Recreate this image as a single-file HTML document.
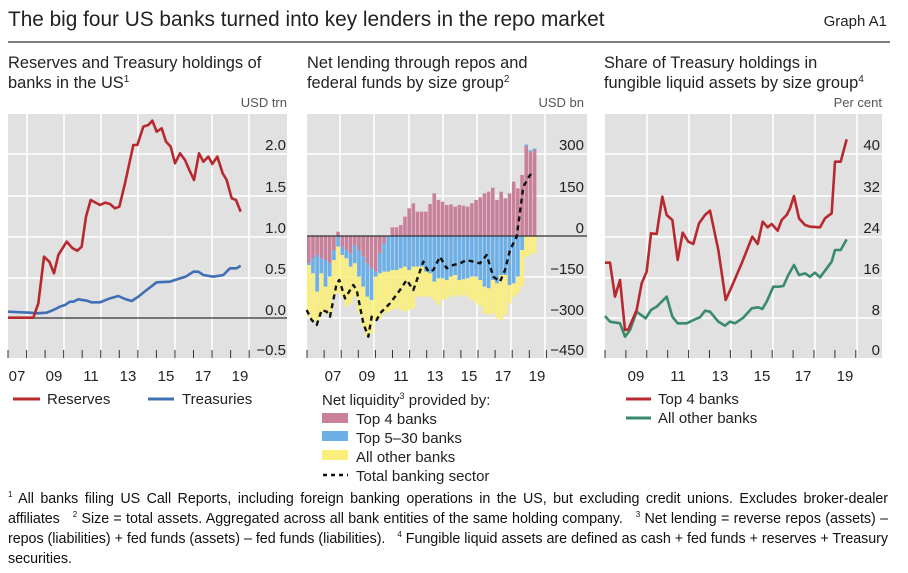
<!DOCTYPE html>
<html><head><meta charset="utf-8">
<style>
html,body{margin:0;padding:0;background:#fff;}
svg text{font-family:"Liberation Sans",sans-serif;fill:#222;}
.fn{position:absolute;left:8px;top:489px;width:880px;font-family:"Liberation Sans",sans-serif;font-size:14.3px;letter-spacing:-0.04px;line-height:20px;color:#111;text-align:justify;}
sup{font-size:8px;line-height:0;vertical-align:6px;}
</style></head><body>
<div style="position:relative;width:908px;height:573px;overflow:hidden">
<svg id="s" width="908" height="573" xmlns="http://www.w3.org/2000/svg">
<text x="8" y="26" font-size="20.8">The big four US banks turned into key lenders in the repo market</text>
<text x="887" y="26" font-size="15" text-anchor="end">Graph A1</text>
<line x1="8" y1="42" x2="890" y2="42" stroke="#333" stroke-width="1.3"/>
<text x="8" y="68" font-size="16.4">Reserves and Treasury holdings of</text>
<text x="8" y="88" font-size="16.4">banks in the US<tspan font-size="10" dy="-6">1</tspan></text>
<text x="307" y="68" font-size="16.4">Net lending through repos and</text>
<text x="307" y="88" font-size="16.4">federal funds by size group<tspan font-size="10" dy="-6">2</tspan></text>
<text x="604" y="68" font-size="16.4">Share of Treasury holdings in</text>
<text x="604" y="88" font-size="16.4">fungible liquid assets by size group<tspan font-size="10" dy="-6">4</tspan></text>
<text x="287" y="107" font-size="13" text-anchor="end" style="fill:#555">USD trn</text>
<text x="584" y="107" font-size="13" text-anchor="end" style="fill:#555">USD bn</text>
<text x="882" y="107" font-size="13" text-anchor="end" style="fill:#555">Per cent</text>
<g id="g"></g>
<line x1="13" y1="399" x2="40" y2="399" stroke="#b8292f" stroke-width="3"/>
<text x="47" y="404" font-size="15">Reserves</text>
<line x1="148" y1="399" x2="174" y2="399" stroke="#3f6fb5" stroke-width="3"/>
<text x="182" y="404" font-size="15">Treasuries</text>
<text x="322" y="405" font-size="15">Net liquidity<tspan font-size="9" dy="-6">3</tspan><tspan dy="6"> provided by:</tspan></text>
<rect x="322" y="413" width="26" height="10" fill="#c9809a"/>
<text x="356" y="424" font-size="15">Top 4 banks</text>
<rect x="322" y="431" width="26" height="10" fill="#6db0e8"/>
<text x="356" y="443" font-size="15">Top 5–30 banks</text>
<rect x="322" y="450" width="26" height="10" fill="#fbef7c"/>
<text x="356" y="462" font-size="15">All other banks</text>
<line x1="323" y1="475" x2="348" y2="475" stroke="#111" stroke-width="2.5" stroke-dasharray="4,4"/>
<text x="356" y="481" font-size="15">Total banking sector</text>
<line x1="626" y1="399" x2="651" y2="399" stroke="#b8292f" stroke-width="3"/>
<text x="658" y="404" font-size="15">Top 4 banks</text>
<line x1="626" y1="418" x2="651" y2="418" stroke="#3a8a6c" stroke-width="3"/>
<text x="658" y="423" font-size="15">All other banks</text>
</svg>
<div class="fn"><sup>1</sup> All banks filing US Call Reports, including foreign banking operations in the US, but excluding credit unions. Excludes broker-dealer affiliates &nbsp; <sup>2</sup> Size = total assets. Aggregated across all bank entities of the same holding company. &nbsp; <sup>3</sup> Net lending = reverse repos (assets) – repos (liabilities) + fed funds (assets) – fed funds (liabilities). &nbsp; <sup>4</sup> Fungible liquid assets are defined as cash + fed funds + reserves + Treasury securities.</div>
</div>
<script>
var NS="http://www.w3.org/2000/svg",G=document.getElementById("g");
function el(t,a){var e=document.createElementNS(NS,t);for(var k in a)e.setAttribute(k,a[k]);G.appendChild(e);return e;}
function txt(x,y,s,anc){var e=el("text",{x:x,y:y,"font-size":15,"text-anchor":anc||"middle"});e.textContent=s;}
function panel(x0,x1,gridY,labels,vgrid,ticks,yl,ylx){
 el("rect",{x:x0,y:114,width:x1-x0,height:244,fill:"#e1e1e1"});
 gridY.forEach(function(y){el("line",{x1:x0,y1:y,x2:x1,y2:y,stroke:"#fff","stroke-width":1.5});});
 vgrid.forEach(function(x){el("line",{x1:x,y1:114,x2:x,y2:358,stroke:"#fff","stroke-width":1.5});});
 ticks.forEach(function(x){el("line",{x1:x,y1:350,x2:x,y2:358,stroke:"#333","stroke-width":1});});
 labels.forEach(function(l){txt(l[0],381,l[1]);});
 yl.forEach(function(l){txt(ylx,l[0],l[1],"end");});
}
function poly(pts,col,w,dash){el("polyline",{points:pts.map(function(p){return p.join(",")}).join(" "),fill:"none",stroke:col,"stroke-width":w,"stroke-linejoin":"round","stroke-dasharray":dash||"none"});}
function zp(arr,ox){return arr.map(function(p){return [ox+p[0]/3,90+p[1]/3];});}
var t1=[];for(var i=0;i<14;i++)t1.push(8+i*18.55);
panel(8,287,[154,196,237,278,359],[[17,"07"],[54,"09"],[91,"11"],[128,"13"],[166,"15"],[203,"17"],[240,"19"]],[27,64,101,138,175,212,249],t1,[[150,"2.0"],[192,"1.5"],[233,"1.0"],[274,"0.5"],[315,"0.0"],[355,"−0.5"]],286);
el("line",{x1:8,y1:318,x2:287,y2:318,stroke:"#333","stroke-width":1.2});
poly(zp([[24,665],[90,668],[110,670],[140,668],[160,660],[180,650],[195,645],[210,635],[220,635],[235,628],[260,632],[275,637],[300,637],[330,625],[355,618],[375,627],[395,633],[415,620],[440,600],[470,577],[510,575],[540,565],[557,560],[580,545],[595,545],[610,555],[640,560],[670,555],[690,535],[710,535],[722,527]],0),"#3f6fb5",2.6);
poly(zp([[24,683],[100,683],[115,640],[132,500],[148,515],[162,550],[175,495],[200,455],[218,475],[232,482],[245,470],[258,380],[272,330],[300,345],[315,338],[330,342],[345,355],[358,350],[375,280],[400,165],[412,165],[430,110],[445,105],[457,92],[470,125],[485,115],[498,155],[512,170],[525,220],[540,190],[555,210],[568,240],[582,270],[597,190],[610,215],[625,200],[637,222],[652,200],[668,250],[680,270],[695,325],[708,330],[722,365]],0),"#b8292f",2.6);
var t2=[];for(var i=0;i<15;i++)t2.push(307+i*17.1);
panel(307,587,[154,196,277,318],[[333,"07"],[367,"09"],[401,"11"],[435,"13"],[469,"15"],[503,"17"],[537,"19"]],[340,374,409,443,477,511,545],t2,[[150,"300"],[192,"150"],[233,"0"],[274,"−150"],[315,"−300"],[355,"−450"]],584);
var pinkA=[370,355,345,355,360,370,330,275,320,330,340,315,330,350,370,385,395,340,310,290,262,262,255,230,205,190,228,243,195,172];
var blueA=[375,400,455,400,440,410,360,320,345,355,380,370,410,440,470,480,410,400,395,395,390,390,385,380,390,380];
var yelA=[530,540,545,520,520,520,470,460,470,500,490,470,520,560,590,580,540,535,520,515,510,505,510,515,510,505];
function z4(v){return 140+v/3;}
var pinkB=[215,215,192,160,180,185,195,193,200,195,197,200,190,180,172,160,155,143,180,155,175,160,125,145,105,18,35,30];
var blueB=[380,395,400,425,415,415,420,410,405,420,418,415,410,410,420,440,445,420,430,405,405,435,430,410,330,290,290,290];
var yelB=[470,470,470,480,495,480,475,470,465,470,465,470,480,490,500,520,525,520,535,540,525,490,470,460,440,350,345,340];
var N=55,bw=(537-307)/N,Z=236;
for(var i=0;i<N;i++){
 var p,b,y;
 if(i<26){p=z4(pinkA[i]);b=z4(blueA[i]);y=z4(yelA[i]);}
 else{var j=i-27;if(j<0)j=0;p=z4(pinkB[j]);b=z4(blueB[j]);y=z4(yelB[j]);}
 var x=307+i*bw,w=bw-0.6;
 var negStart=Z;
 if(p<Z){el("rect",{x:x,y:p,width:w,height:Z-p,fill:"#c9809a"});}
 else{el("rect",{x:x,y:Z,width:w,height:p-Z,fill:"#c9809a"});negStart=p;}
 if(b>negStart)el("rect",{x:x,y:negStart,width:w,height:b-negStart,fill:"#6db0e8"});
 var ys=Math.max(b,negStart);
 if(y>ys)el("rect",{x:x,y:ys,width:w,height:y-ys,fill:"#fbef7c"});
 if(i>=52)el("rect",{x:x,y:p-1.5,width:w,height:1.5,fill:"#6db0e8"});
}
el("line",{x1:307,y1:236,x2:587,y2:236,stroke:"#333","stroke-width":1.2});
poly(zp([[20,660],[35,690],[50,705],[65,660],[80,665],[90,680],[110,580],[118,570],[135,625],[160,585],[170,600],[190,700],[205,740],[215,680],[230,690],[240,670],[270,640],[300,600],[320,570],[340,600],[370,515],[385,545],[400,540],[420,500],[440,535],[460,525],[480,520],[500,510],[520,515],[540,520],[560,495],[580,560],[600,575],[615,540],[630,480],[650,440],[670,290],[690,255],[705,250]],300),"#111",2.4,"5,4");
var t3=[];for(var i=0;i<13;i++)t3.push(605+i*20.9);
panel(605,882,[154,196,237,278,318],[[636,"09"],[678,"11"],[720,"13"],[762,"15"],[803,"17"],[845,"19"]],[647,689,731,773,815,857],t3,[[150,"40"],[192,"32"],[233,"24"],[274,"16"],[315,"8"],[355,"0"]],880);
poly(zp([[30,678],[45,695],[75,700],[90,740],[105,720],[125,665],[152,685],[168,660],[185,650],[215,620],[232,680],[248,700],[275,700],[300,688],[315,682],[330,662],[345,665],[370,695],[390,707],[405,695],[420,700],[445,683],[470,655],[490,652],[502,657],[515,635],[535,590],[550,590],[565,588],[580,555],[597,525],[612,555],[630,550],[645,560],[660,548],[675,562],[690,542],[710,515],[720,480],[737,480],[755,448]],595),"#3a8a6c",2.6);
poly(zp([[30,518],[45,518],[60,620],[75,570],[90,720],[100,718],[125,660],[140,580],[155,545],[168,430],[185,432],[202,320],[215,375],[232,390],[248,510],[263,428],[280,455],[295,462],[312,400],[330,375],[345,362],[370,480],[392,630],[410,590],[425,555],[440,520],[460,470],[472,440],[488,462],[503,395],[518,412],[530,402],[548,422],[560,390],[575,375],[585,355],[597,318],[612,385],[630,405],[645,410],[675,412],[690,385],[710,370],[720,215],[737,215],[755,148]],595),"#b8292f",2.6);
</script>
</body></html>
